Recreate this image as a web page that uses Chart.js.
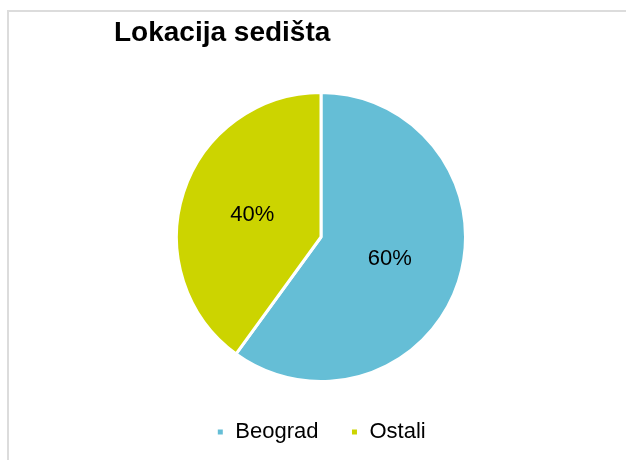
<!DOCTYPE html>
<html>
<head>
<meta charset="utf-8">
<script src="https://cdn.jsdelivr.net/npm/chart.js@4/dist/chart.umd.min.js"></script>
<style>
  html, body { margin: 0; padding: 0; background: #fff; }
  #wrap { position: relative; width: 626px; height: 460px; overflow: hidden; }
  #frame { position: absolute; left: 7px; top: 10px; width: 700px; height: 500px;
           border: 2px solid #dcdcdc; box-sizing: border-box; }
  #title { position: absolute; left: 114px; top: 18px; font: bold 28px/28px "Liberation Sans", Arial, sans-serif;
           color: #000; white-space: nowrap; }
  #myChart { position: absolute; left: 0; top: 0; }
</style>
</head>
<body>
<div id="wrap">
  <div id="frame"></div>
  <canvas id="myChart" width="626" height="460"></canvas>
  <div id="title">Lokacija sedišta</div>
</div>
<script>
var labels = ['Beograd', 'Ostali']
var values = [60, 40]
var colors = ['#65bed6', '#ccd400']

// percentage labels inside the slices
var sliceLabels = {
      id: 'sliceLabels',
      afterDatasetsDraw: function (chart) {
            var ctx = chart.ctx
            var meta = chart.getDatasetMeta(0)
            var total = values.reduce(function (a, b) { return a + b }, 0)
            ctx.save()
            ctx.font = '22px "Liberation Sans", Arial, sans-serif'
            ctx.fillStyle = '#000'
            ctx.textAlign = 'center'
            ctx.textBaseline = 'middle'
            meta.data.forEach(function (arc, i) {
                  var p = arc.tooltipPosition()
                  ctx.fillText(Math.round(values[i] / total * 100) + '%', p.x, p.y)
            })
            ctx.restore()
      }
}

var ctx = document.getElementById('myChart')
var myChart = new Chart(ctx, {
      type: 'pie',
      data: {
            labels: labels,
            datasets: [{
                  data: values,
                  backgroundColor: colors,
                  borderColor: '#fff',
                  borderWidth: 3,
            }]
      },
      options: {
            animation: false,
            responsive: false,
            layout: {
                  padding: { top: 85, bottom: 7, left: 175, right: 159 }
            },
            plugins: {
                  legend: {
                        display: true,
                        position: 'bottom',
                        labels: {
                              boxWidth: 8,
                              boxHeight: 8,
                              padding: 32,
                              color: '#000',
                              font: { family: '"Liberation Sans", Arial, sans-serif', size: 22 }
                        }
                  },
                  tooltip: { enabled: false },
                  title: { display: false }
            }
      },
      plugins: [sliceLabels]
})
</script>
</body>
</html>
